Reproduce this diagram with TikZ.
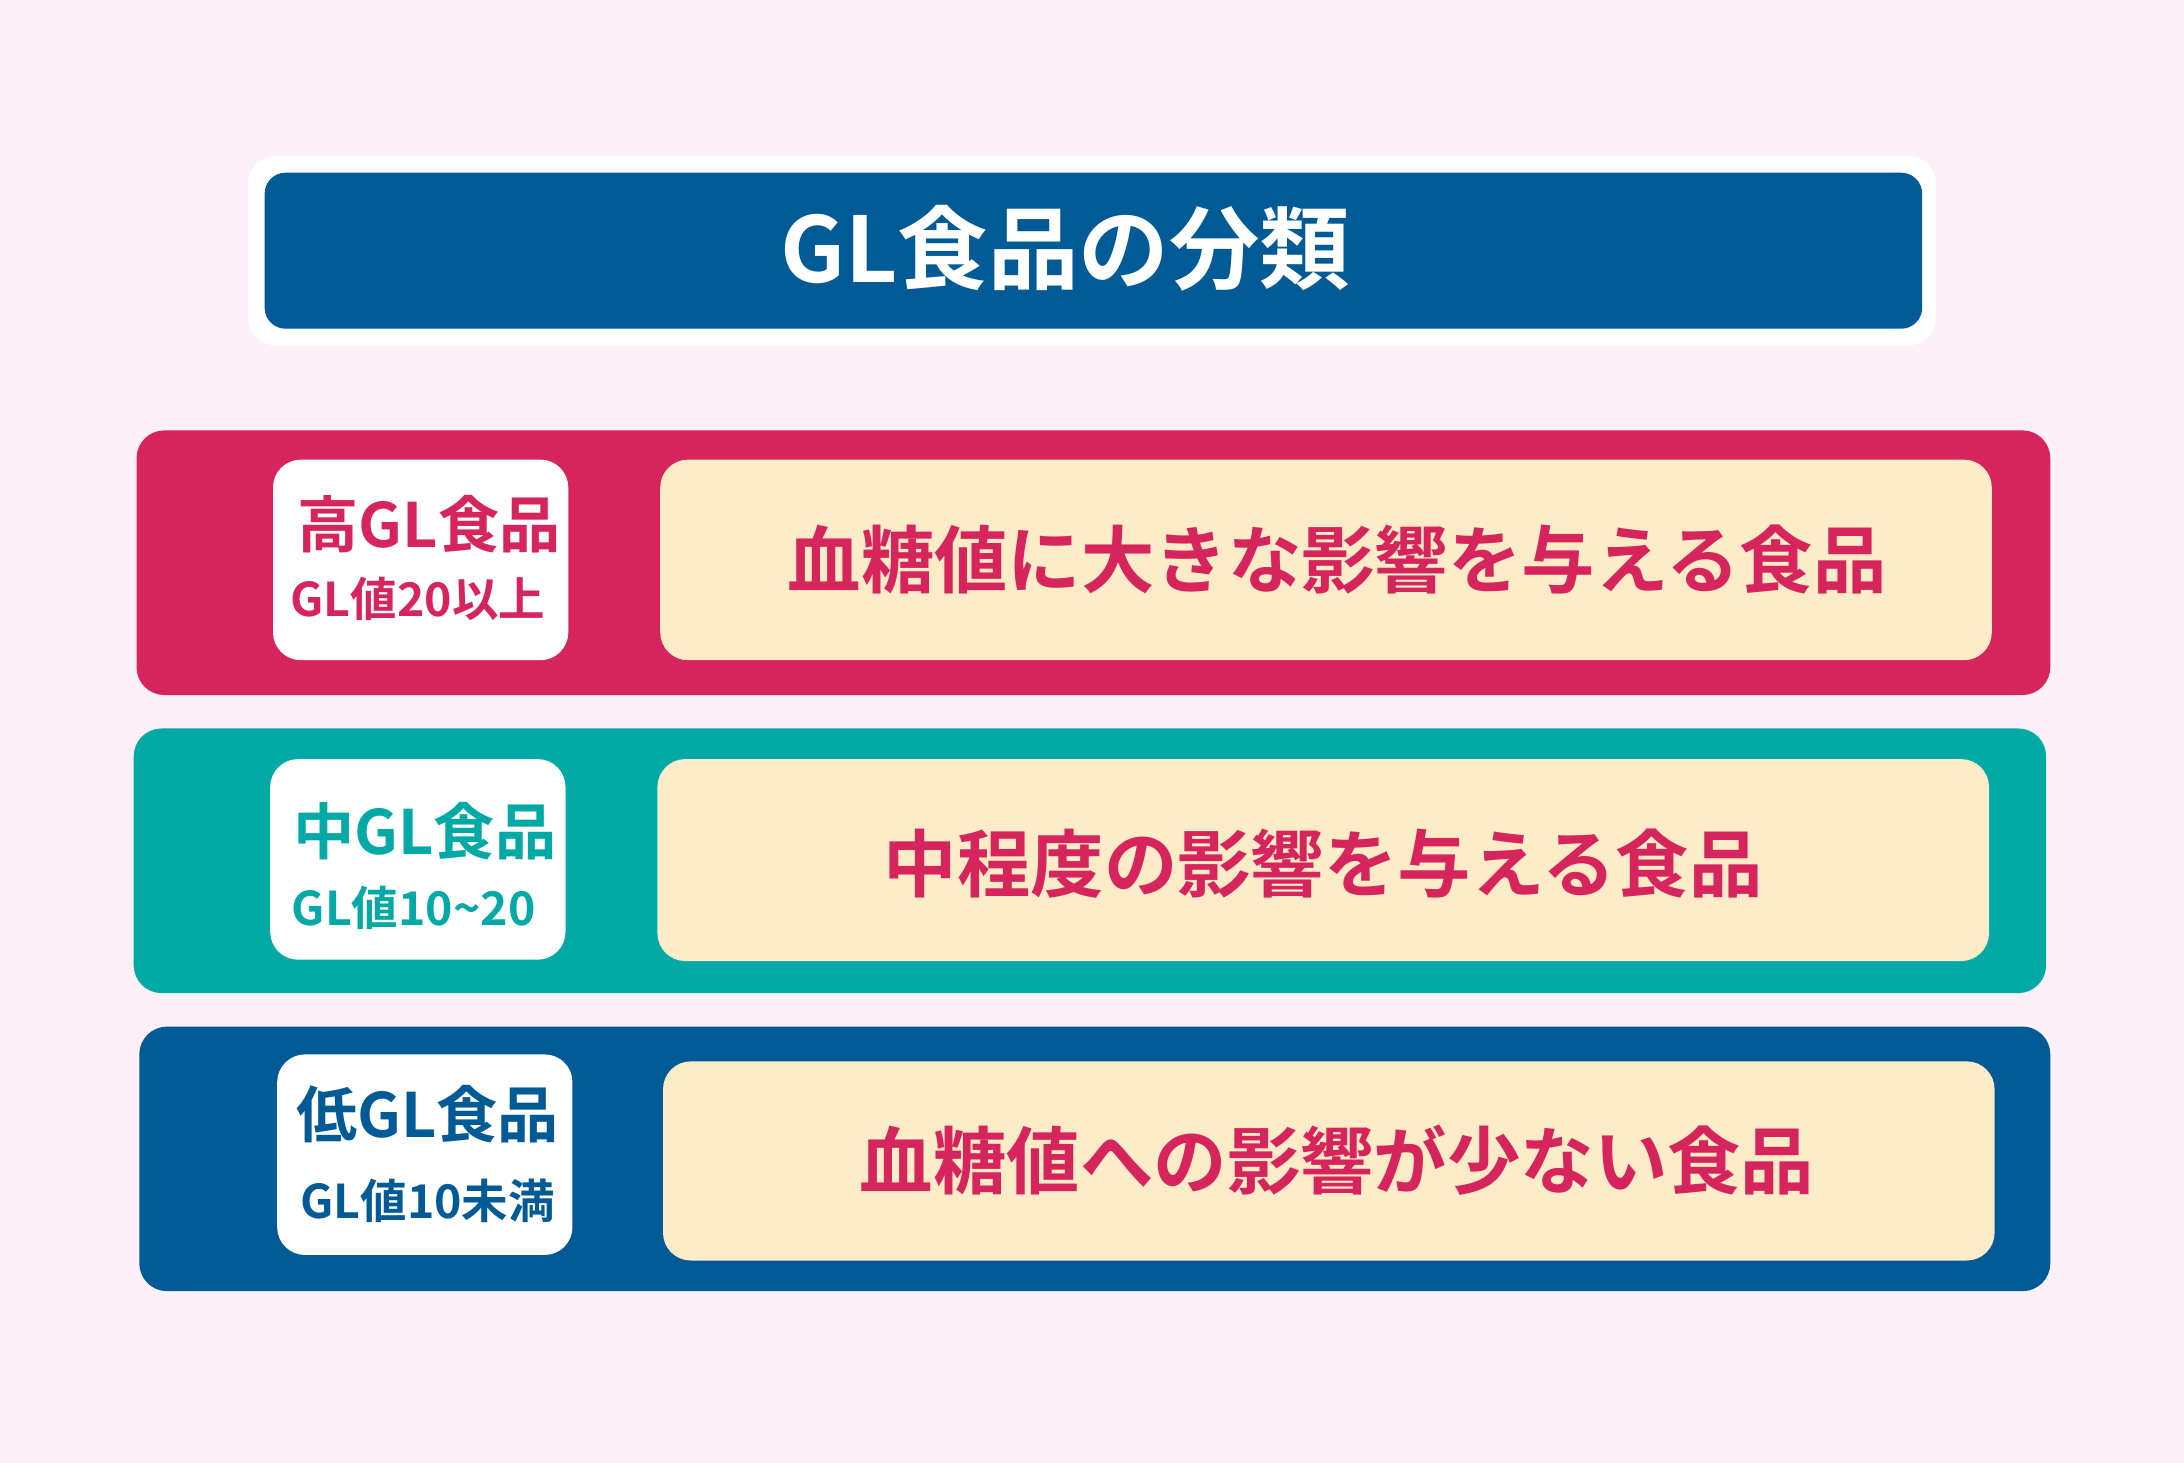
\documentclass[tikz,border=0pt]{standalone}
\usepackage{fontspec}
\newfontfamily\cjk{Noto Sans CJK JP}[BoldFont={* Bold}]
\definecolor{bg}{HTML}{FDF0F8}
\definecolor{navy}{HTML}{005A96}
\definecolor{crim}{HTML}{D6245C}
\definecolor{teal}{HTML}{00A9A5}
\definecolor{cream}{HTML}{FEEBC8}
\tikzset{
 band/.style={rounded corners=0.4cm},
 lab/.style={font=\cjk\bfseries\fontsize{25}{28}\selectfont, inner sep=0},
 sub/.style={font=\cjk\bfseries\fontsize{19}{22}\selectfont, inner sep=0},
 main/.style={font=\cjk\bfseries\fontsize{30}{34}\selectfont, text=crim, inner sep=0},
}
\begin{document}
\begin{tikzpicture}[x=0.02cm,y=-0.02cm]
\fill[bg] (0,0) rectangle (1568,1050);
\useasboundingbox (0,0) rectangle (1568,1050);
% title
\fill[white,rounded corners=0.4cm] (178,112) rectangle (1390,248);
\fill[navy,rounded corners=0.3cm] (190,124) rectangle (1380,236);
\node[font=\cjk\bfseries\fontsize{37}{42}\selectfont,text=white] (title) at (765,178) {GL食品の分類};
% row 1
\fill[crim,band] (98,309) rectangle (1472,499);
\fill[white,band] (196,330) rectangle (408,474);
\fill[cream,band] (474,330) rectangle (1430,474);
\node[lab,text=crim] (l1) at (308,376) {高GL食品};
\node[sub,text=crim] (s1) at (300,430) {GL値20以上};
\node[main] (m1) at (960,402) {血糖値に大きな影響を与える食品};
% row 2
\fill[teal,band] (96,523) rectangle (1469,713);
\fill[white,band] (194,545) rectangle (406,689);
\fill[cream,band] (472,545) rectangle (1428,690);
\node[lab,text=teal] (l2) at (305,597) {中GL食品};
\node[sub,text=teal] (s2) at (297,652) {GL値10\textasciitilde20};
\node[main] (m2) at (950,620) {中程度の影響を与える食品};
% row 3
\fill[navy,band] (100,737) rectangle (1472,927);
\fill[white,band] (199,757) rectangle (411,901);
\fill[cream,band] (476,762) rectangle (1432,905);
\node[lab,text=navy] (l3) at (307,800) {低GL食品};
\node[sub,text=navy] (s3) at (307,862) {GL値10未満};
\node[main] (m3) at (960,833) {血糖値への影響が少ない食品};
\end{tikzpicture}
\end{document}
